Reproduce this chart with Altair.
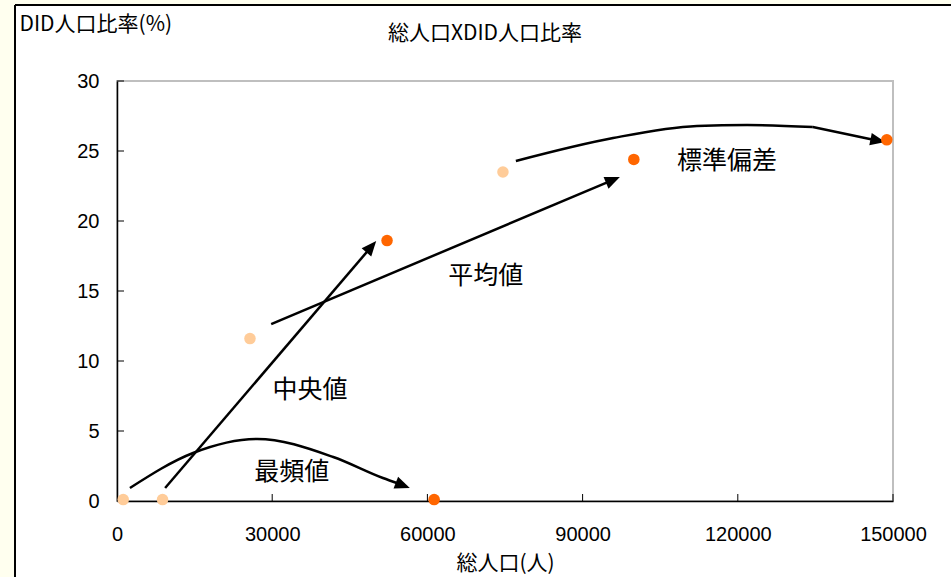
import math
import altair as alt
import pandas as pd

# Plot area size (pixels) and axis extents
W, H = 776, 420
X_MAX, Y_MAX = 150000, 30

# Municipalities: total population vs. DID population ratio
light_pop = [1200, 8800, 25700, 74600]
light_ratio = [0.1, 0.1, 11.6, 23.5]
dark_pop = [61300, 52200, 99900, 148800]
dark_ratio = [0.1, 18.6, 24.4, 25.8]

# Guide arrows (path points, last point sits at the arrowhead base)
mode_x = [2500, 14700, 27100, 41800, 51400, 54500]
mode_y = [0.93, 3.43, 4.43, 3.14, 1.64, 1.23]
median_x = [9300, 48600]
median_y = [0.93, 17.92]
mean_x = [29800, 95100]
mean_y = [12.64, 22.81]
sd_x = [77100, 95900, 112100, 121800, 134500]
sd_y = [24.29, 25.93, 26.79, 26.86, 26.71]
sd_tail_x = [134500, 146200]
sd_tail_y = [26.71, 25.81]

# Arrowhead tips, in the order mode, median, mean, sd
tip_x = [56600, 50100, 97200, 148500]
tip_y = [0.93, 18.57, 23.14, 25.64]

# Arrow labels
label_text = ["最頻値", "中央値", "平均値", "標準偏差"]
label_x = [33800, 37300, 71300, 117900]
label_y = [2.07, 7.93, 16.07, 24.29]

x_ticks = [0, 30000, 60000, 90000, 120000, 150000]
y_ticks = [0, 5, 10, 15, 20, 25, 30]

LIGHT, DARK = "#FFCC99", "#FF6600"
CJK = "Noto Sans CJK JP"
NUM = "Liberation Sans"

# ---------- tables ----------
pts = pd.DataFrame({
    "x": light_pop + dark_pop,
    "y": light_ratio + dark_ratio,
    "kind": ["light"] * len(light_pop) + ["dark"] * len(dark_pop),
})

paths = []
for name, xs_, ys_ in [("mode", mode_x, mode_y), ("median", median_x, median_y),
                       ("mean", mean_x, mean_y), ("sd", sd_x, sd_y),
                       ("sd_tail", sd_tail_x, sd_tail_y)]:
    for i, (a, b) in enumerate(zip(xs_, ys_)):
        paths.append({"seg": name, "i": i, "x": a, "y": b})
paths = pd.DataFrame(paths)

# arrowhead direction: from the last path point to the tip, in screen space
sx, sy = W / X_MAX, H / Y_MAX
last_pts = [(mode_x[-1], mode_y[-1]), (median_x[-1], median_y[-1]),
            (mean_x[-1], mean_y[-1]), (sd_tail_x[-1], sd_tail_y[-1])]
heads = []
for (px, py), tx, ty in zip(last_pts, tip_x, tip_y):
    ang = math.degrees(math.atan2((tx - px) * sx, (ty - py) * sy)) % 360
    heads.append({"x": tx, "y": ty, "angle": ang})
heads = pd.DataFrame(heads)

labels = pd.DataFrame({"x": label_x, "y": label_y, "text": label_text})
ytick_df = pd.DataFrame({"y": [v for v in y_ticks if v > 0]})
xtick_df = pd.DataFrame({"x": [v for v in x_ticks if v > 0]})
one = pd.DataFrame({"k": [0]})

# ---------- shared encodings ----------
xs = alt.Scale(domain=[0, X_MAX], nice=False, zero=False)
ys = alt.Scale(domain=[0, Y_MAX], nice=False, zero=False)

x_axis = alt.Axis(
    values=x_ticks, format="d", grid=False, ticks=False, tickSize=0,
    labelFont=NUM, labelFontSize=20, labelColor="#000", labelPadding=23,
    labelFlush=False, labelOverlap=False,
    domainColor="#000", domainWidth=1.5,
    title="総人口(人)", titleFont=CJK, titleFontSize=21, titleFontWeight="normal",
    titleColor="#000", titleX=W / 2, titleY=62, titleBaseline="middle",
    titleAlign="center",
)
y_axis = alt.Axis(
    values=y_ticks, grid=False, ticks=False, tickSize=0,
    labelFont=NUM, labelFontSize=20, labelColor="#000", labelPadding=18,
    labelFlush=False, labelOverlap=False,
    domainColor="#000", domainWidth=1.5,
    title="DID人口比率(%)", titleFont=CJK, titleFontSize=21,
    titleFontWeight="normal", titleColor="#000", titleAngle=0,
    titleAlign="left", titleBaseline="middle", titleX=-98, titleY=-57,
)
X = alt.X("x:Q", scale=xs, axis=x_axis)
Y = alt.Y("y:Q", scale=ys, axis=y_axis)

# ---------- layers ----------
frame_fill = alt.Chart(one).mark_rect(color="#FFFFEF").encode(
    x=alt.value(-117), x2=alt.value(-102), y=alt.value(-81), y2=alt.value(H + 100)
) + alt.Chart(one).mark_rect(color="#FFFFEF").encode(
    x=alt.value(-117), x2=alt.value(W + 100), y=alt.value(-81), y2=alt.value(-76)
)
frame_line = alt.Chart(one).mark_rule(color="#000", strokeWidth=2).encode(
    x=alt.value(-102), y=alt.value(-76), y2=alt.value(H + 100)
) + alt.Chart(one).mark_rule(color="#000", strokeWidth=2).encode(
    x=alt.value(-102), x2=alt.value(W + 100), y=alt.value(-76)
)

yticks = alt.Chart(ytick_df).mark_rule(color="#000", strokeWidth=1).encode(
    y=Y, x=alt.value(0), x2=alt.value(7)
)
xticks = alt.Chart(xtick_df).mark_rule(color="#000", strokeWidth=1).encode(
    x=X, y=alt.value(H - 7), y2=alt.value(H)
)

arrows = alt.Chart(paths).mark_line(
    color="#000", strokeWidth=2.5, interpolate="monotone"
).encode(x=X, y=Y, detail="seg:N", order="i:Q")

arrowheads = alt.Chart(heads).mark_point(
    shape="M0,0L-0.42,1L0.42,1Z", filled=True, color="#000", opacity=1,
    size=900, strokeWidth=0
).encode(x=X, y=Y, angle=alt.Angle("angle:Q", scale=None))

points = alt.Chart(pts).mark_circle(size=133, opacity=1).encode(
    x=X, y=Y,
    color=alt.Color("kind:N", scale=alt.Scale(domain=["light", "dark"],
                                              range=[LIGHT, DARK]), legend=None),
)

arrow_labels = alt.Chart(labels).mark_text(
    font=CJK, fontSize=25, color="#000", align="center", baseline="middle"
).encode(x=X, y=Y, text="text:N")

title = alt.Chart(one).mark_text(
    text="総人口XDID人口比率", font=CJK, fontSize=21, color="#000",
    align="center", baseline="middle"
).encode(x=alt.value(485 - 117), y=alt.value(34 - 81))

chart = alt.layer(
    frame_fill, frame_line, yticks, xticks, arrows, arrowheads, points,
    arrow_labels, title
).properties(
    width=W, height=H,
    padding={"left": 117, "top": 81, "right": 951 - 117 - W, "bottom": 577 - 81 - H},
    autosize=alt.AutoSizeParams(type="none"),
    background="#FFFFFF",
).configure_view(
    stroke="#BFBFBF", strokeWidth=2
)

chart.save("out.html", embed_options={"renderer": "svg", "actions": False})
